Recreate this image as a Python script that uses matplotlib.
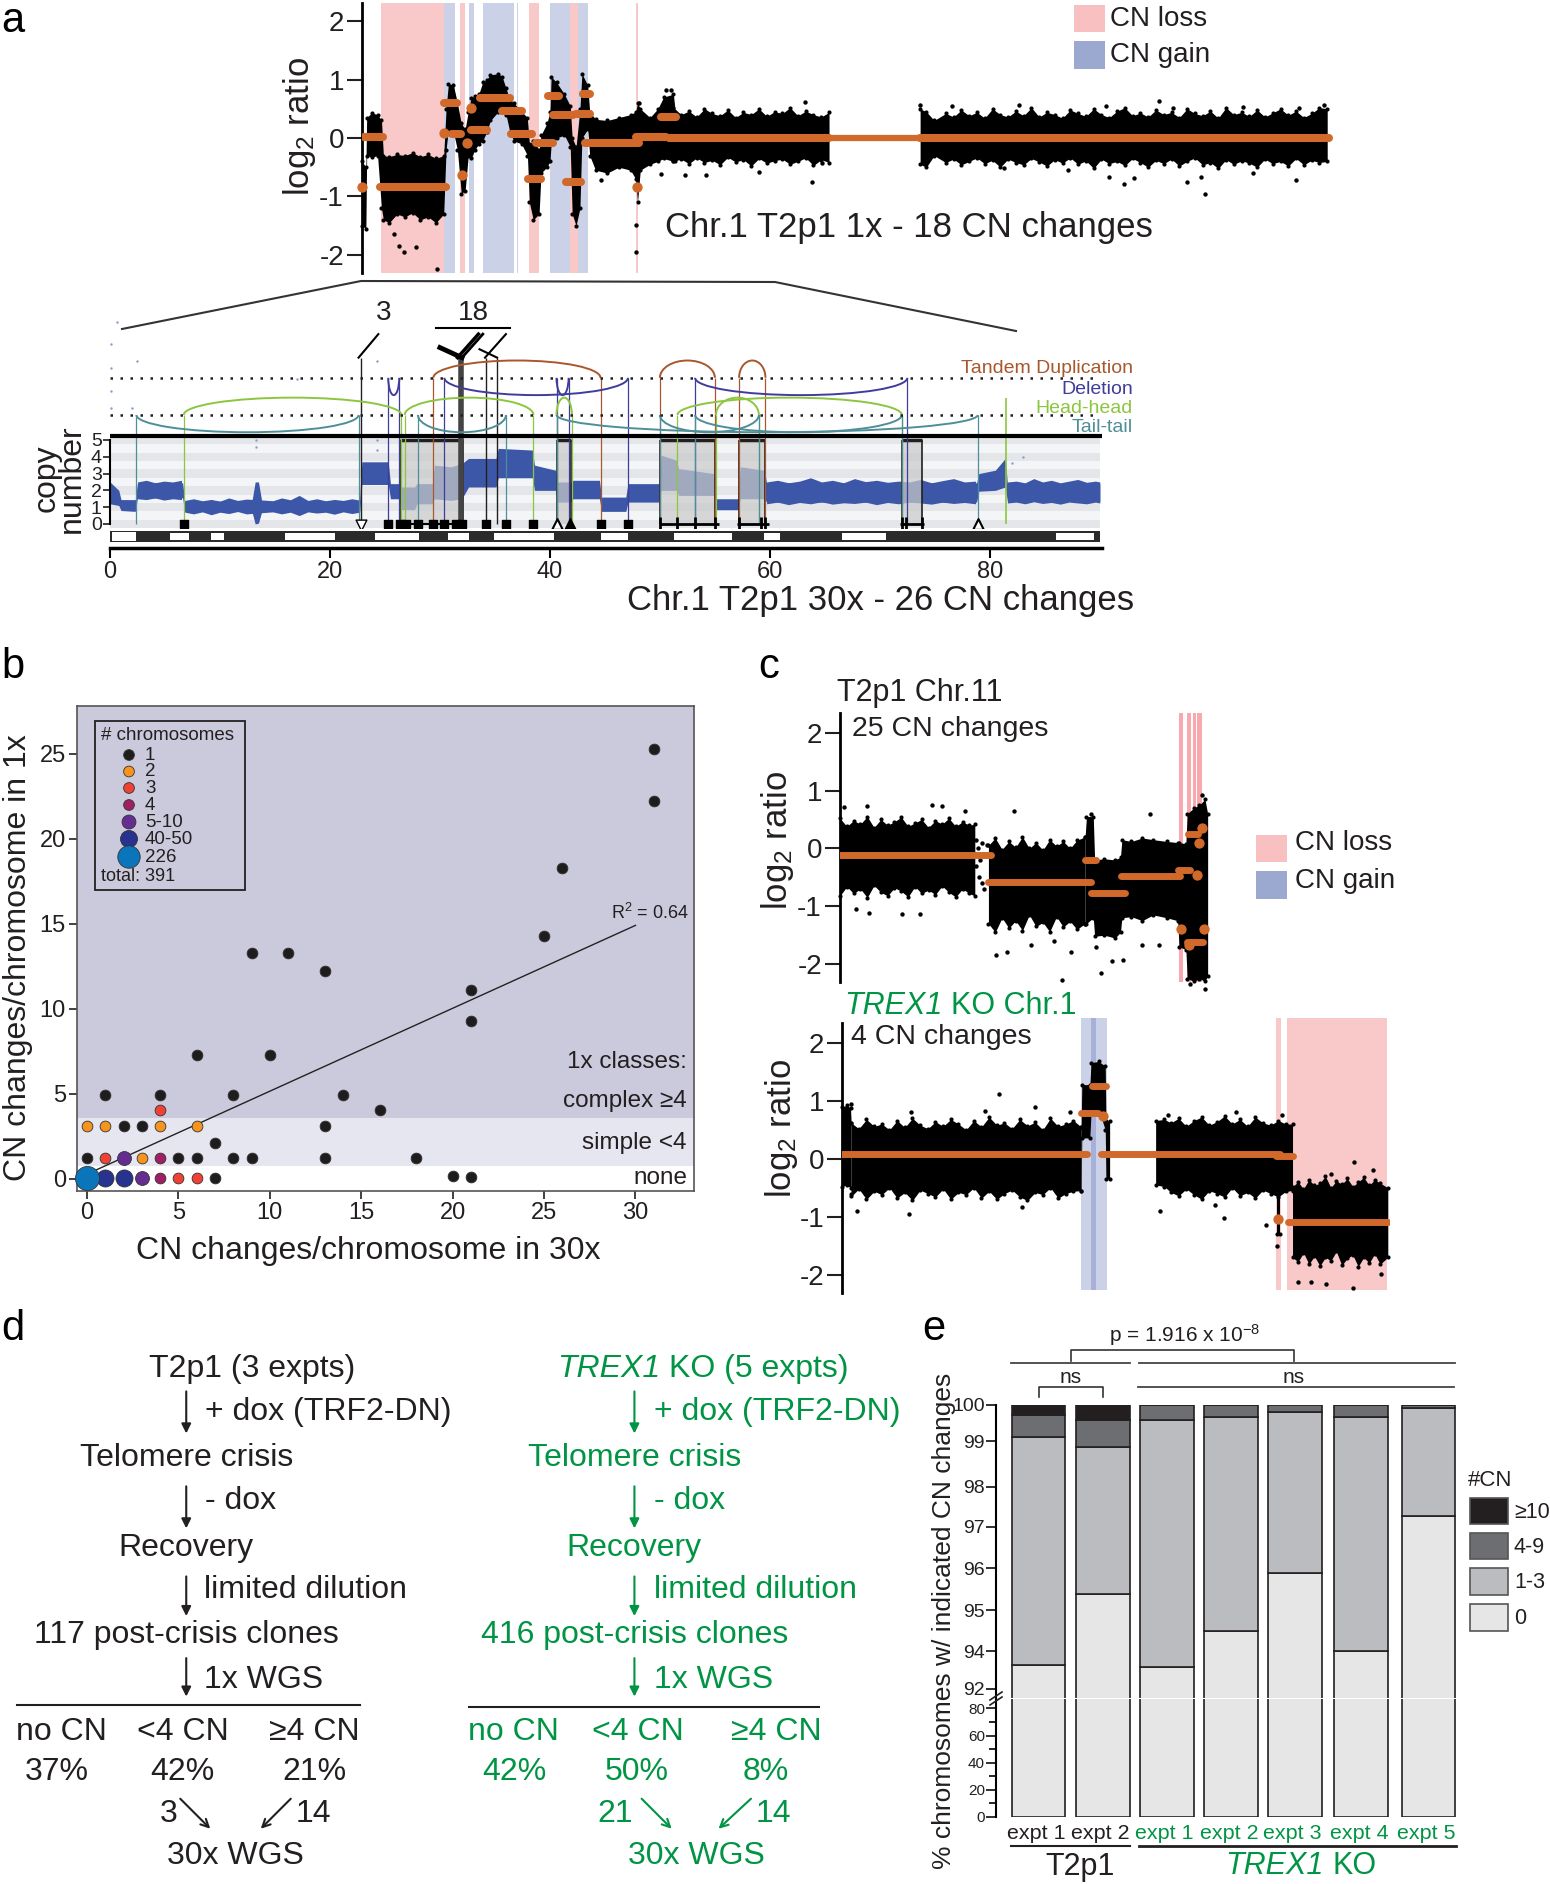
import numpy as np
import matplotlib
matplotlib.use('Agg')
import matplotlib.pyplot as plt
from matplotlib.patches import Arc, Rectangle

plt.rcParams['font.family'] = ['Liberation Sans', 'DejaVu Sans']
plt.rcParams['mathtext.fontset'] = 'custom'
plt.rcParams['mathtext.rm'] = 'Liberation Sans'
plt.rcParams['mathtext.it'] = 'Liberation Sans:italic'
plt.rcParams['mathtext.default'] = 'regular'

W, H = 1550, 1884
S = 1550 / 1290
DARK = '#231F20'
GREEN = '#009444'
ORANGE = '#D0692A'
LOSS = '#F9C8C9'
GAIN = '#CBD2E8'

# panel a, 1x track (Mb, log2 ratio)
a_pos = [0, 1, 1.2, 2.5, 4, 5, 5.5, 7, 9, 11, 13, 15, 17, 19, 21, 21.6, 22.2, 23.5, 24.5, 25.5, 26.5, 27.3, 28, 29, 30,
         31, 32, 33, 35, 36, 37, 38, 39, 41, 42.5, 43, 44, 45.5, 46, 47.5, 48.3, 48.6, 50, 52, 53.5, 54, 55, 56, 56.5,
         58, 58.5, 60, 63, 66, 69, 70.3, 70.8, 71.5, 74, 76, 77.5, 80, 80.5]
a_lo = [-1.5, -1.55, -0.3, -0.33, -0.3, -1.2, -1.4, -1.45, -1.3, -1.35, -1.28, -1.4, -1.35, -1.45, -1.3, -0.2, 0.15, 0.1, -0.2,
        -0.95, -0.9, -0.3, -0.35, -0.2, -0.1, -0.05, 0.1, 0.3, 0.45, 0.45, 0.4, 0.1, -0.05, -0.1, -0.3, -1.1, -1.4, -1.3, -0.6,
        -0.5, -0.4, -0.1, 0, 0.05, -0.15, -1.3, -1.5, -1.2, 0, 0.15, -0.3, -0.55, -0.6, -0.5, -0.55, -0.7, -1.1, -0.55, -0.45,
        -0.4, -0.35, -0.4, -0.4]
a_hi = [-0.4, -0.5, 0.35, 0.43, 0.4, 0.3, -0.3, -0.32, -0.28, -0.3, -0.25, -0.32, -0.28, -0.35, -0.3, 0.5, 0.93, 0.9, 0.6,
        0.25, 0.15, 0.45, 0.68, 0.72, 0.75, 0.95, 1.0, 1.08, 1.1, 1.05, 0.85, 0.65, 0.6, 0.45, 0.35, -0.1, -0.05, -0.2, 0.05,
        0.25, 0.45, 1.05, 0.95, 0.75, 0.55, 0, -0.15, 0.5, 1.1, 0.9, 0.45, 0.32, 0.3, 0.35, 0.4, 0.45, 0.6, 0.5, 0.35, 0.5,
        0.7, 0.75, 0.45]
a_p_pos = [80, 82, 84, 86, 88, 90, 92, 94, 96, 98, 100, 102, 104, 106, 108, 110, 112, 114, 116, 118, 120]
a_p_lo = [-.40, -.36, -.44, -.34, -.42, -.38, -.46, -.33, -.41, -.37, -.48, -.35, -.43, -.39, -.36, -.45, -.40, -.34, -.47, -.37, -.42]
a_p_hi = [.52, .40, .46, .36, .50, .42, .38, .48, .35, .44, .40, .50, .37, .45, .42, .52, .38, .46, .40, .36, .44]
a_q_pos = [143.4, 145, 147,
           150, 152, 154, 156, 158, 160, 162, 164, 166, 168,
           170, 172, 174, 176, 178, 180, 182, 184, 186, 188,
           190, 192, 194, 196, 198, 200, 202, 204, 206, 208,
           210, 212, 214, 216, 218, 220, 222, 224, 226, 228,
           230, 232, 234, 236, 238, 240, 242, 244, 246, 248]
a_q_lo = [-.45, -.5, -.3,
          -.42, -.36, -.46, -.4, -.34, -.44, -.38, -.5, -.36, -.42,
          -.46, -.35, -.41, -.48, -.37, -.43, -.34, -.45, -.39, -.52,
          -.36, -.44, -.4, -.47, -.35, -.42, -.5, -.38, -.44, -.36,
          -.48, -.4, -.34, -.46, -.42, -.52, -.37, -.45, -.39, -.43,
          -.5, -.36, -.44, -.4, -.48, -.35, -.46, -.38, -.42, -.4]
a_q_hi = [.5, .45, .3,
          .42, .36, .48, .38, .44, .34, .5, .4, .36, .46,
          .38, .52, .36, .44, .4, .34, .48, .42, .37, .5,
          .4, .35, .46, .52, .38, .43, .36, .48, .4, .44,
          .35, .5, .42, .38, .46, .34, .52, .4, .44, .37,
          .48, .36, .43, .5, .39, .46, .35, .42, .52, .5]
a_out_x = [113.7, 78.1, 79.4, 204.8, 143.4, 216.5, 212, 195.7, 198.4, 115.5, 88.4, 83, 71.3, 9.4, 10.8, 13.9, 8.1, 19.3, 70.4, 70.4,
           168.7, 191.2, 208.4, 226.4, 240.8, 247.2, 240, 229, 215.6, 192, 181.3, 165, 118.2, 102, 76.7, 61.3, 151.5]
a_out_y = [0.61, 0.82, 0.82, 0.63, 0.57, -0.95, -0.75, -0.79, -0.68, -0.75, -0.64, -0.64, 0.6, -1.84, -1.95, -1.87, -1.64, -2.25, -1.95, -1.49,
           0.57, 0.55, 0.52, 0.53, 0.52, 0.57, -0.72, -0.6, -0.66, -0.66, -0.55, -0.52, -0.43, -0.58, -0.62, -0.72, 0.55]
a_seg_start = [0.4, 4.5, 21, 23, 28, 30.3, 36, 38.2, 42.6, 44.7, 47.8, 49.2, 52.5, 55, 56.8, 57.4, 70.4, 76.7, 79, 143.4]
a_seg_end = [5.4, 21.6, 24.4, 25.5, 32, 37.9, 41, 43.7, 46, 49, 50.7, 54.1, 56.3, 58.5, 58.6, 71.3, 78, 80.6, 120, 248.4]
a_seg_val = [0.02, -0.84, 0.6, 0.07, 0.14, 0.69, 0.46, 0.07, -0.7, -0.09, 0.72, 0.39, -0.75, 0.41, 0.75, -0.08, 0.02, 0.36, 0, 0]
a_dot_x = [0, 21, 25.8, 27, 28.1, 70.7]
a_dot_y = [-0.83, 0.08, -0.63, -0.08, 0.52, -0.83]
a_gap_start, a_gap_end, a_gap_val = 120, 143.4, 0
a_loss = [(4.9, 21.1), (25.3, 26.5), (42.9, 45.5), (53.4, 55.6), (70.5, 70.9)]
a_gain = [(21.1, 23.8), (27.6, 28.9), (31, 39), (39.7, 40.2), (48.3, 53.4), (55.6, 58.1)]

# panel a, 30x track (Mb, copy number)
cn_pos = [0, 0.8, 1, 2.3, 2.5, 6.6, 6.8, 12.9, 13.2, 13.5, 13.8, 22.7, 22.9, 25.3, 25.5, 26.3, 26.5, 27.7, 27.9, 29.3, 29.5, 31, 32, 32.6,
          35.1, 35.3, 38.4, 38.6, 40.5, 40.7, 41.9, 42.1, 44.5, 44.7, 46.9, 47.1, 49.9, 50.1, 51.5, 51.7, 54.9, 55.1, 57.1, 57.3, 59.5, 59.7,
          78.8, 79, 80.5, 81.4, 81.6, 90]
cn_lo = [1.2, 1.1, 0.8, 0.75, 1.55, 1.55, 0.75, 0.75, 0, 0.05, 0.75, 0.75, 2.35, 2.35, 1.5, 1.5, 0.85, 0.85, 1.2, 1.2, 1.5, 1.4, 1.5, 2.2,
         2.2, 2.75, 2.75, 2, 2, 1.3, 1.3, 1.5, 1.5, 0.75, 0.75, 1.3, 1.3, 2, 2, 1.7, 1.7, 0.85, 0.85, 1.5, 1.5, 1.3, 1.3, 1.95, 2, 2.2, 1.35, 1.35]
cn_hi = [2.5, 2, 1.45, 1.45, 2.45, 2.45, 1.35, 1.35, 2.5, 2.5, 1.35, 1.35, 3.7, 3.7, 2.4, 2.4, 2.2, 2.2, 2.4, 2.4, 3.5, 3.4, 3.6, 3.9,
         3.9, 4.5, 4.4, 3.5, 3.2, 2.5, 2.5, 2.6, 2.6, 1.6, 1.6, 2.4, 2.4, 4.1, 3.8, 3.3, 3, 1.5, 1.5, 3.4, 3.2, 2.45, 2.45, 3, 3.2, 3.9, 2.4, 2.4]
cn_p1 = [2.5, 3.3, 4.1, 4.9, 5.7, 6.5]
cn_p1_lo = [1.5, 1.45, 1.55, 1.42, 1.5, 1.45]
cn_p1_hi = [2.5, 2.6, 2.45, 2.55, 2.5, 2.6]
cn_p2 = [6.8, 7.6, 8.4, 9.2, 10, 10.8, 11.6, 12.4, 14, 14.8, 15.6, 16.4, 17.2, 18, 18.8, 19.6, 20.4, 21.2, 22, 22.7]
cn_p2_lo = [.7, .6, .72, .55, .7, .62, .74, .6, .68, .72, .6, .7, .5, .72, .65, .7, .58, .72, .62, .7]
cn_p2_hi = [1.4, 1.5, 1.38, 1.46, 1.36, 1.55, 1.4, 1.48, 1.42, 1.38, 1.55, 1.44, 1.7, 1.4, 1.5, 1.38, 1.46, 1.4, 1.5, 1.42]
cn_p3 = [59.7, 60.7, 61.7, 62.7, 63.7, 64.7, 65.7, 66.7, 67.7, 68.7, 69.7, 70.7, 71.7, 72.7, 73.7, 74.7, 75.7, 76.7, 77.7, 78.7]
cn_p3_lo = [1.2, 1.3, 1.15, 1.28, 1.2, 1.32, 1.18, 1.26, 1.22, 1.3, 1.15, 1.28, 1.2, 1.3, 1.25, 1.18, 1.3, 1.22, 1.28, 1.2]
cn_p3_hi = [2.5, 2.6, 2.45, 2.55, 2.75, 2.5, 2.6, 2.45, 2.7, 2.52, 2.6, 2.48, 2.55, 2.5, 2.65, 2.45, 2.58, 2.7, 2.5, 2.55]
cn_p4 = [81.6, 82.4, 83.2, 84, 84.8, 85.6, 86.4, 87.2, 88, 88.8, 89.6, 90]
cn_p4_lo = [1.25, 1.3, 1.2, 1.32, 1.22, 1.28, 1.18, 1.3, 1.25, 1.2, 1.3, 1.25]
cn_p4_hi = [2.5, 2.55, 2.45, 2.7, 2.5, 2.6, 2.45, 2.55, 2.65, 2.48, 2.55, 2.5]
cn_speck_x = [0.6, 0.1, 0.1, 2.5, 0.1, 2, 24.3, 17, 0.1, 13.3, 13.3, 24.3, 24.3, 83, 82]
cn_speck_y = [12, 10.7, 9.3, 9.7, 7.9, 6.9, 9.7, 8.6, 6.9, 5, 4.6, 4.4, 5, 4, 3.6]
tandem_start = [29.4, 50, 57.2]
tandem_end = [44.6, 55, 59.6]
deletion_start = [25.3, 30.4, 40.6, 53.2]
deletion_end = [26.3, 47.1, 41.7, 72.5]
head_start = [6.7, 26.8, 40.6, 51.6, 55.1]
head_end = [26.5, 38.5, 42, 72, 59]
tail_start = [2.4, 28, 40.6, 50, 53.2]
tail_end = [22.6, 36, 78.9, 59, 72]
box_start = [26.4, 40.6, 50, 57.2, 72]
box_end = [32.1, 41.9, 55, 59.6, 73.8]
square_pos = [6.7, 25.3, 26.4, 26.9, 28, 29.4, 30.4, 31.5, 32, 34.2, 36, 38.5, 44.6, 47.1]
cross_start = [50, 57, 71.8]
cross_end = [55.4, 59.9, 74]
cross_pos = [50, 51.6, 53.2, 55, 57.2, 59.2, 59.6, 72, 72.4, 73.8]
ideo_white_start = [5.5, 9.2, 15.9, 24.1, 30.7, 34.9, 44.6, 51.3, 59.5, 66.6, 86]
ideo_white_end = [7.2, 10.4, 20.5, 28.1, 32.6, 40.4, 47.1, 56.6, 60.9, 70.6, 89.5]

# panel b
b_x = [31, 31, 26, 25, 9, 11, 13, 21, 21, 6, 10, 1, 4, 8, 14, 16, 2, 3, 13, 7, 0, 5, 6, 8, 9, 13, 18, 7, 20, 21]
b_y = [25.3, 22.2, 18.3, 14.3, 13.3, 13.3, 12.2, 11.1, 9.3, 7.3, 7.3, 4.9, 4.9, 4.9, 4.9, 4.06, 3.1, 3.1, 3.1, 2.1,
       1.2, 1.2, 1.2, 1.2, 1.2, 1.2, 1.2, 0.07, 0.15, 0.13]
orange_x, orange_y = [0, 1, 4, 6, 3], [3.1, 3.1, 3.1, 3.1, 1.2]
red_x, red_y = [4, 1, 5, 6], [4.06, 1.2, 0.07, 0.07]
maroon_x, maroon_y = [4, 4], [1.2, 0.07]
purple_x, purple_y = [2, 3], [1.2, 0.07]
navy_x, navy_y = [1, 2], [0.07, 0.07]
blue_x, blue_y = [0], [0.07]
fit_x, fit_y = [0.2, 30], [0.37, 14.9]
leg_labels = ['1', '2', '3', '4', '5-10', '40-50', '226']

# panel c
c1_p_pos = [0, 2.5, 5, 7.5, 10, 12.5, 15, 17.5, 20, 22.5, 25, 27.5, 30, 32.5, 35, 37.5, 40, 42.5, 45, 47.5, 49.5]
c1_p_lo = [-.82, -.66, -.78, -.7, -.85, -.64, -.76, -.82, -.68, -.74, -.84, -.66, -.78, -.72, -.8, -.65, -.76, -.84, -.7, -.78, -.82]
c1_p_hi = [.52, .38, .48, .42, .55, .36, .5, .4, .46, .54, .38, .44, .5, .36, .48, .42, .52, .38, .46, .4, .42]
c1_q_pos = [54.5, 57, 59.5, 62, 64.5, 67, 69.5, 72, 74.5, 77, 79.5, 82, 84.5, 87, 90]
c1_q_lo = [-1.3, -1.45, -1.2, -1.38, -1.25, -1.42, -1.15, -1.35, -1.28, -1.44, -1.18, -1.36, -1.26, -1.4, -1.3]
c1_q_hi = [.05, .18, -.02, .12, .02, .2, .0, .1, -.03, .15, .04, .12, .0, .14, .2]
c1_pos = [90, 90.5, 93, 93.5, 97, 101, 103, 103.5, 107, 111, 115, 120, 124, 124.5, 127, 127.5, 130, 132, 134, 135]
c1_lo = [-1.3, -1.3, -1.2, -1.52, -1.5, -1.55, -1.45, -1.2, -1.18, -1.25, -1.15, -1.2, -1.25, -1.7, -1.75, -2.25, -2.3, -2.25, -2.3, -2.2]
c1_hi = [.2, .55, .55, -.2, -.18, -.2, -.15, .15, .12, .18, .15, .12, .1, .1, .08, .6, .7, .75, .85, .6]
c1_out_x = [33.6, 63.8, 92, 113.7, 22.9, 29.5, 57.3, 61.4, 70, 78.6, 85, 81.5, 96, 100, 104, 94, 111, 117, 5.7, 10.6, 1.6, 9.8, 37.6, 45.8, 133, 134, 128.5,
            50, 50.5, 51, 51.5, 52, 52, 53, 53, 49.8, 54]
c1_out_y = [0.75, 0.65, 0.59, 0.59, -1.14, -1.14, -1.85, -1.8, -1.67, -1.6, -1.8, -2.28, -2.15, -1.94, -1.93, -1.7, -1.67, -1.67, -1.04, -1.11, 0.72, 0.73, 0.73, 0.65, 0.93, -2.43, -2.34,
            -0.3, 0, -0.5, -0.2, -0.6, 0.1, -0.7, -0.1, 0.15, 0.05]
c1_seg_start = [0, 54.5, 90, 92, 103, 124, 127.7, 127.3]
c1_seg_end = [55.6, 92, 94, 104.7, 125, 128.5, 131.6, 133.4]
c1_seg_val = [-0.11, -0.575, -0.2, -0.765, -0.48, -0.38, 0.25, -1.61]
c1_dot_x = [125.2, 128, 131.7, 131.2, 133, 133.8]
c1_dot_y = [-1.39, -1.67, 0.085, -0.46, 0.35, -1.39]
c1_loss = [(124.4, 126), (127.6, 129), (129.6, 130.6), (131.2, 133)]

c2_pos = [0, 2, 3.7, 4]
c2_lo = [-.48, -.45, -.5, -.6]
c2_hi = [.9, .92, .88, .62]
c2_p_pos = [4, 7.5, 11, 14.5, 18, 21.5, 25, 28.5, 32, 35.5, 39, 42.5, 46, 49.5, 53, 56.5, 60, 63.5, 67, 70.5, 74, 77.5, 81, 84.5, 88, 91.5, 95, 98.5, 102, 105.5, 109]
c2_p_lo = [-.65, -.52, -.7, -.56, -.62, -.5, -.68, -.58, -.72, -.54, -.6, -.66, -.52, -.7, -.58, -.62, -.5, -.68, -.56, -.7, -.6, -.54, -.66, -.72, -.58, -.62, -.5, -.68, -.6, -.56, -.55]
c2_p_hi = [.62, .52, .68, .56, .6, .5, .66, .54, .7, .58, .52, .64, .56, .68, .6, .5, .66, .55, .72, .58, .62, .52, .68, .57, .63, .5, .7, .56, .6, .66, .55]
c2_g_pos = [109, 109.3, 113, 113.5, 117, 120, 120.3, 122]
c2_g_lo = [-.55, .36, .36, .8, .85, .5, -.35, -.35]
c2_g_hi = [.55, 1.28, 1.28, 1.66, 1.68, 1.6, .65, .65]
c2_q_pos = [143, 147, 150, 153.5, 157, 160.5, 164, 167.5, 171, 174.5, 178, 181.5, 185, 188.5, 192, 195.5, 199, 202.5, 205.5]
c2_q_lo = [-.45, -.48, -.58, -.64, -.52, -.62, -.7, -.55, -.6, -.66, -.5, -.64, -.58, -.68, -.54, -.6, -.66, -.56, -.55]
c2_q_hi = [.66, .68, .62, .7, .56, .66, .72, .58, .64, .74, .6, .68, .56, .72, .62, .58, .66, .6, .6]
c2_r_pos = [205.5, 208, 210.5, 213, 215.5, 218, 220.5, 223, 225.5, 228, 230.5, 233, 235.5, 238, 240.5, 243, 245.5, 249]
c2_r_lo = [-1.7, -1.78, -1.62, -1.82, -1.68, -1.85, -1.7, -1.76, -1.6, -1.84, -1.72, -1.66, -1.86, -1.7, -1.8, -1.64, -1.82, -1.7]
c2_r_hi = [-.48, -.4, -.52, -.36, -.46, -.42, -.3, -.5, -.38, -.44, -.34, -.48, -.4, -.32, -.46, -.36, -.42, -.5]
c2_col_pos = [198.6, 199.6]
c2_col_lo = [-1.3, -1.3]
c2_col_hi = [-.55, -.55]
c2_out_x = [71.4, 3.7, 6.7, 30.2, 87.8, 31.2, 64.9, 103.7, 144.9, 148.6, 179.8, 174, 193.5, 198.6, 200.6, 233.7, 242.4, 223, 207.8, 214, 221, 233, 246, 82.2, 170]
c2_out_y = [1.12, 0.94, -0.9, -0.95, 0.89, 0.8, 0.82, 0.8, -0.9, 0.75, 0.8, -1.02, -1.14, -1.5, 0.76, -0.06, -0.2, -0.27, -2.13, -2.13, -2.16, -2.23, -1.99, -0.83, -0.79]
c2_seg_start = [0, 108.8, 113.9, 118, 198, 203.3]
c2_seg_end = [111.8, 116.5, 120.4, 199.6, 205.7, 249]
c2_seg_val = [0.08, 0.79, 1.26, 0.08, 0.056, -1.09]
c2_dot_x = [119, 199]
c2_dot_y = [0.74, -1.04]
c2_loss = [(197.8, 200.4), (203, 248.8)]
c2_gain = [(108.8, 120.6)]
c2_gain_dark = [(113.3, 115.9)]

# panel e
e_groups = ['expt 1', 'expt 2', 'expt 1', 'expt 2', 'expt 3', 'expt 4', 'expt 5']
e_left_px = [1011.6, 1075.8, 1139.7, 1204, 1267.8, 1334, 1401.5]
e_zero = [93.75, 95.45, 93.7, 94.57, 95.95, 94.09, 97.32]
e_one_three = [5.46, 3.52, 5.93, 5.13, 3.86, 5.6, 2.6]
e_four_nine = [0.53, 0.66, 0.37, 0.3, 0.19, 0.31, 0.06]
e_ten_plus = [0.26, 0.37, 0, 0, 0, 0, 0.02]
e_colors = ['#E6E6E6', '#BBBCBF', '#6D6E71', '#231F20']
e_upper_ticks = [100, 99.12, 98.03, 97.07, 96.07, 95.07, 94.08, 93.18]
e_upper_labels = ['100', '99', '98', '97', '96', '95', '94', '92']
e_lower_ticks = [0, 20, 40, 60, 80]
e_legend = ['≥10', '4-9', '1-3', '0']


def axes_px(x0, y0, x1, y1):
    return fig.add_axes([x0 / W, 1 - y1 / H, (x1 - x0) / W, (y1 - y0) / H])


def tx(x, y, s, size=22, color=DARK, ha='center', **kw):
    return ov.text(x, y + 2.5, s, fontsize=size, color=color, ha=ha, va='center', **kw)


def trex(x, y, rest, size, ha='center'):
    # italic gene name followed by upright text
    rend = fig.canvas.get_renderer()
    t1 = tx(x, y, 'TREX1', size, GREEN, 'left', style='italic')
    t2 = tx(x, y, rest, size, GREEN, 'left')
    w1 = t1.get_window_extent(rend).width
    w2 = t2.get_window_extent(rend).width
    gap = size * 100 / 72 * 0.278
    left = x - (w1 + gap + w2) / 2 if ha == 'center' else x
    t1.set_x(left)
    t2.set_x(left + w1 + gap)


def cloud(ax, pos, lo, hi):
    ax.fill_between(pos, lo, hi, color='black', lw=0, zorder=2)
    ax.scatter(pos, lo, s=9, color='black', lw=0, zorder=2, clip_on=False)
    ax.scatter(pos, hi, s=9, color='black', lw=0, zorder=2, clip_on=False)


def log_track(ax, ox, oy, starts, ends, vals, dx, dy, lw=5.5):
    ax.scatter(ox, oy, s=10, color='black', lw=0, zorder=2, clip_on=False)
    ax.hlines(vals, starts, ends, color=ORANGE, lw=lw, zorder=3, capstyle='round')
    ax.scatter(dx, dy, s=55, color=ORANGE, lw=0, zorder=3, clip_on=False)
    for sp in ['top', 'right', 'bottom']:
        ax.spines[sp].set_visible(False)
    ax.spines['left'].set_linewidth(2)
    ax.set_xticks([])
    ax.set_yticks([-2, -1, 0, 1, 2], ['-2', '-1', '0', '1', '2'])
    ax.tick_params(axis='y', labelsize=20, length=11, width=1.5, pad=2, colors=DARK)
    ax.patch.set_visible(False)


fig = plt.figure(figsize=(W / 100, H / 100), dpi=100)
ov = fig.add_axes([0, 0, 1, 1], zorder=10)
ov.set_xlim(0, W)
ov.set_ylim(H, 0)
ov.axis('off')

# ---- a top
ax = axes_px(362, 3, 1335, 273)
ax.set_xlim(0, 250)
ax.set_ylim(-2.31, 2.31)
for s, e in a_loss:
    ax.axvspan(s, e, color=LOSS, lw=0, zorder=1)
for s, e in a_gain:
    ax.axvspan(s, e, color=GAIN, lw=0, zorder=1)
cloud(ax, a_pos, a_lo, a_hi)
cloud(ax, a_p_pos, a_p_lo, a_p_hi)
cloud(ax, a_q_pos, a_q_lo, a_q_hi)
log_track(ax, a_out_x, a_out_y, a_seg_start, a_seg_end, a_seg_val, a_dot_x, a_dot_y, lw=5.8)
ax.hlines(a_gap_val, a_gap_start, a_gap_end, color=ORANGE, lw=4.5, zorder=3)
tx(300, 124, 'log$_2$ ratio', 25, rotation=90)
tx(665, 225, 'Chr.1 T2p1 1x - 18 CN changes', 25, ha='left')
ov.add_patch(Rectangle((1074, 5), 31, 27, color='#F9C0C2', lw=0))
ov.add_patch(Rectangle((1074, 41), 31, 28, color='#9BA8D0', lw=0))
tx(1110, 16, 'CN loss', 20, ha='left')
tx(1110, 52, 'CN gain', 20, ha='left')
ov.plot([122, 361, 775, 1016], [329, 281, 282, 331], color='#333333', lw=1.5)

# ---- a zoom
ax = axes_px(110, 318, 1102, 528)
ax.set_xlim(0, 90.2)
ax.set_ylim(-0.24, 12.26)
for i in range(0, 6):
    ax.barh(i, 90, height=0.5, left=0, color='#E4E6EA', lw=0, zorder=0)
    ax.barh(i + 0.5, 90, height=0.5, left=0, color='#F4F5F7', lw=0, zorder=0)
ax.add_patch(Rectangle((0, 5.1), 90.2, 8, color='white', lw=0, zorder=0.5))
ax.fill_between(cn_pos, cn_lo, cn_hi, color='#3C56A8', lw=0, zorder=2)
for pp, ll, hh in [(cn_p1, cn_p1_lo, cn_p1_hi), (cn_p2, cn_p2_lo, cn_p2_hi), (cn_p3, cn_p3_lo, cn_p3_hi), (cn_p4, cn_p4_lo, cn_p4_hi)]:
    ax.fill_between(pp, ll, hh, color='#3C56A8', lw=0, zorder=2)
ax.scatter(cn_speck_x, cn_speck_y, s=3, color='#8A9BD0', lw=0, zorder=2)
for s, e in zip(box_start, box_end):
    ax.add_patch(Rectangle((s, 0), e - s, 5, facecolor='#C9CAC9', alpha=0.72, edgecolor='none', zorder=3))
    ax.vlines([s, e], 0, 5, color=DARK, lw=1.2, zorder=4)
    ax.hlines(5, s, e, color=DARK, lw=2.5, zorder=4)
UP, LOW = 8.7, 6.49
arc_sets = [
    (tandem_start, tandem_end, UP, 1, '#A9572C'),
    (deletion_start, deletion_end, UP, -1, '#3F3D9C'),
    (head_start, head_end, LOW, 1, '#8CC63F'),
    (tail_start, tail_end, LOW, -1, '#4E8E98'),
]
for starts, ends, base, way, col in arc_sets:
    for s, e in zip(starts, ends):
        t1, t2 = (0, 180) if way > 0 else (180, 360)
        ax.add_patch(Arc(((s + e) / 2, base), e - s, 2.06, theta1=t1, theta2=t2, color=col, lw=1.4, zorder=5))
        ax.vlines([s, e], 0, base, color=col, lw=0.9, zorder=4)
ax.vlines(81.5, 0, 7.5, color='#8CC63F', lw=1.2, zorder=4)
ax.vlines([22.8, 34.2, 35.2], 0, 9.9, color=DARK, lw=1, zorder=4)
ax.vlines([31.9], 0, 9.9, color='#444444', lw=4, zorder=4)
ax.hlines([UP, LOW], 0, 90, color=DARK, lw=1.8, linestyles=(0, (1, 3)), zorder=6)
ax.plot([0, 90.2], [5.24, 5.24], color='black', lw=3, zorder=6)
ax.scatter(square_pos, [0] * len(square_pos), marker='s', s=36, color='black', zorder=6)
ax.hlines(0, 26.4, 32, color='black', lw=1.5, zorder=6)
ax.hlines([0] * 3, cross_start, cross_end, color='black', lw=2, zorder=6)
ax.scatter(cross_pos, [0] * len(cross_pos), marker='|', s=90, color='black', lw=2, zorder=6)
ax.scatter([22.8], [-0.05], marker='v', s=60, facecolor='white', edgecolor='black', zorder=6)
ax.scatter([40.6, 78.9], [0, 0], marker='^', s=60, facecolor='white', edgecolor='black', lw=1.5, zorder=6)
ax.scatter([41.8], [0], marker='^', s=70, color='black', zorder=6)
ax.plot([22.6, 24.4], [9.9, 11.3], color='black', lw=1.5, zorder=6)
ax.plot([31.6, 33.5], [9.9, 11.3], color='black', lw=2.5, zorder=6)
ax.plot([32, 33.9], [9.9, 11.3], color='black', lw=2, zorder=6)
ax.plot([34.1, 36], [9.9, 11.3], color='black', lw=1.5, zorder=6)
ax.plot([30, 32], [10.5, 9.9], color='black', lw=3.5, zorder=6)
ax.plot([33.6, 35.2], [10.4, 9.9], color='black', lw=1.5, zorder=6)
for sp in ['top', 'right', 'bottom']:
    ax.spines[sp].set_visible(False)
ax.spines['left'].set_bounds(0, 5)
ax.spines['left'].set_linewidth(1.5)
ax.set_xticks([])
ax.set_yticks(range(6))
ax.tick_params(axis='y', labelsize=14, length=5, width=1.2, pad=1, colors=DARK)
ax.patch.set_visible(False)
tx(59, 476, 'copy\nnumber', 23, rotation=90, linespacing=0.8)

# ideogram
ax = axes_px(110, 531, 1102, 542)
ax.set_xlim(0, 90.2)
ax.set_ylim(0, 1)
ax.barh(0.5, 90, height=1, left=0, color='#2B2B2B', lw=0)
ax.barh([0.5] * len(ideo_white_start), np.array(ideo_white_end) - np.array(ideo_white_start), height=0.7,
        left=ideo_white_start, color='white', lw=0)
ax.barh(0.5, 2.2, height=0.8, left=0.2, color='white', lw=0)
ax.axis('off')

ax = axes_px(110, 548, 1102, 556)
ax.set_xlim(0, 90.2)
ax.set_ylim(0, 1)
for sp in ['left', 'right', 'bottom']:
    ax.spines[sp].set_visible(False)
ax.spines['top'].set_linewidth(2.5)
ax.xaxis.tick_top()
ax.set_xticks([0, 20, 40, 60, 80])
ax.set_yticks([])
ax.tick_params(axis='x', direction='in', length=7, width=1.5, labeltop=False)
for v in [0, 20, 40, 60, 80]:
    tx(110 + v * 11, 570, str(v), 17)
ax.patch.set_visible(False)
tx(1134, 598, 'Chr.1 T2p1 30x - 26 CN changes', 25, ha='right')
tx(384, 310, '3', 20)
tx(473, 310, '18', 20)
ov.plot([436, 510], [328, 328], color='black', lw=1.5)
tx(1133, 366, 'Tandem Duplication', 14, color='#A9572C', ha='right')
tx(1133, 387, 'Deletion', 14, color='#3F3D9C', ha='right')
tx(1133, 406, 'Head-head', 14, color='#8CC63F', ha='right')
tx(1133, 425, 'Tail-tail', 14, color='#4E8E98', ha='right')

# ---- b
ax = axes_px(77, 706, 694, 1191)
ax.set_xlim(-0.545, 33.2)
ax.set_ylim(-0.72, 27.8)
ax.set_facecolor('white')
ax.axhspan(3.58, 28, color='#CBCADC', lw=0, zorder=0)
ax.axhspan(0.76, 3.58, color='#E6E6F0', lw=0, zorder=0)
ax.plot(fit_x, fit_y, color='#222222', lw=1, zorder=2)
for xs, ys, c, sz in [(b_x, b_y, '#1F1C1D', 60), (orange_x, orange_y, '#F7941D', 60), (red_x, red_y, '#EF4136', 60),
                      (maroon_x, maroon_y, '#9E1F63', 60), (purple_x, purple_y, '#662D91', 100),
                      (navy_x, navy_y, '#27338F', 150), (blue_x, blue_y, '#0B75BB', 300)]:
    ax.scatter(xs, ys, s=sz, color=c, edgecolor='#333333', lw=0.6, zorder=3, clip_on=False)
ax.set_xticks(range(0, 31, 5))
ax.set_yticks(range(0, 26, 5))
ax.tick_params(labelsize=17, length=6, width=1.2, pad=2, colors=DARK)
for sp in ax.spines.values():
    sp.set_linewidth(1.2)
    sp.set_color('#555555')
tx(368, 1248, 'CN changes/chromosome in 30x', 23)
tx(18, 955, 'CN changes/chromosome in 1x', 23, rotation=90)
tx(689, 910, 'R$^2$ = 0.64', 13, ha='right')
tx(687, 1059, '1x classes:', 17.5, ha='right')
tx(687, 1099, 'complex ≥4', 17.5, ha='right')
tx(687, 1141, 'simple <4', 17.5, ha='right')
tx(687, 1175, 'none', 17.5, ha='right')
ov.add_patch(Rectangle((95, 721), 150, 169, facecolor='none', edgecolor=DARK, lw=1.3))
tx(101, 733, '# chromosomes', 13.5, ha='left')
leg_y = [753, 769.5, 786, 803, 820, 837, 855]
leg_c = ['#1F1C1D', '#F7941D', '#EF4136', '#9E1F63', '#662D91', '#27338F', '#0B75BB']
leg_s = [60, 60, 60, 60, 100, 150, 260]
ov.scatter([129] * 7, [v + 2 for v in leg_y], s=leg_s, c=leg_c, edgecolor='#333333', lw=0.6)
for yy, lab in zip(leg_y, leg_labels):
    tx(145, yy, lab, 13.5, ha='left')
tx(101, 874, 'total: 391', 13, ha='left')

# ---- c
ax = axes_px(840, 713, 1215, 982)
ax.set_xlim(0, 137.7)
ax.set_ylim(-2.31, 2.34)
for s, e in c1_loss:
    ax.axvspan(s, e, color='#F9A9AE', lw=0, zorder=1)
cloud(ax, c1_p_pos, c1_p_lo, c1_p_hi)
cloud(ax, c1_q_pos, c1_q_lo, c1_q_hi)
cloud(ax, c1_pos, c1_lo, c1_hi)
log_track(ax, c1_out_x, c1_out_y, c1_seg_start, c1_seg_end, c1_seg_val, c1_dot_x, c1_dot_y, lw=5)
ax = axes_px(842.4, 1018, 1390, 1292.6)
ax.set_xlim(0, 250)
ax.set_ylim(-2.31, 2.43)
for s, e in c2_loss:
    ax.axvspan(s, e, ymin=0.01, color=LOSS, lw=0, zorder=1)
for s, e in c2_gain:
    ax.axvspan(s, e, ymin=0.01, color=GAIN, lw=0, zorder=1)
for s, e in c2_gain_dark:
    ax.axvspan(s, e, ymin=0.01, color='#A6B0D8', lw=0, zorder=1)
for pp, ll, hh in [(c2_pos, c2_lo, c2_hi), (c2_p_pos, c2_p_lo, c2_p_hi), (c2_g_pos, c2_g_lo, c2_g_hi),
                   (c2_q_pos, c2_q_lo, c2_q_hi), (c2_r_pos, c2_r_lo, c2_r_hi), (c2_col_pos, c2_col_lo, c2_col_hi)]:
    cloud(ax, pp, ll, hh)
log_track(ax, c2_out_x, c2_out_y, c2_seg_start, c2_seg_end, c2_seg_val, c2_dot_x, c2_dot_y, lw=5)
ax.spines['left'].set_bounds(-2.31, 2.34)
tx(777, 838, 'log$_2$ ratio', 25, rotation=90)
tx(781, 1126, 'log$_2$ ratio', 25, rotation=90)
tx(837, 691, 'T2p1 Chr.11', 22, ha='left')
tx(852, 727, '25 CN changes', 20.5, ha='left')
trex(844, 1003, 'KO Chr.1', 22, ha='left')
tx(851, 1035, '4 CN changes', 20.5, ha='left')
ov.add_patch(Rectangle((1256, 835), 31, 27, color='#F9C0C2', lw=0))
ov.add_patch(Rectangle((1256, 871), 31, 28, color='#9BA8D0', lw=0))
tx(1295, 841, 'CN loss', 20, ha='left')
tx(1295, 878, 'CN gain', 20, ha='left')

# ---- d
d_left = [(210, 1137, 'T2p1 (3 expts)', 'center'), (171, 1173, '+ dox (TRF2-DN)', 'left'), (155, 1211, 'Telomere crisis', 'center'),
          (171, 1247, '- dox', 'left'), (155, 1286, 'Recovery', 'center'), (170, 1321, 'limited dilution', 'left'),
          (155, 1359, '117 post-crisis clones', 'center'), (170, 1396, '1x WGS', 'left'),
          (51, 1439, 'no CN', 'center'), (152, 1439, '<4 CN', 'center'), (262, 1439, '≥4 CN', 'center'),
          (47, 1473, '37%', 'center'), (152, 1473, '42%', 'center'), (262, 1473, '21%', 'center'),
          (140, 1508, '3', 'center'), (261, 1508, '14', 'center'), (196, 1543, '30x WGS', 'center')]
d_right = [(544, 1173, '+ dox (TRF2-DN)', 'left'), (528, 1211, 'Telomere crisis', 'center'),
           (544, 1247, '- dox', 'left'), (528, 1286, 'Recovery', 'center'), (544, 1321, 'limited dilution', 'left'),
           (528, 1359, '416 post-crisis clones', 'center'), (544, 1396, '1x WGS', 'left'),
           (427, 1439, 'no CN', 'center'), (531, 1439, '<4 CN', 'center'), (646, 1439, '≥4 CN', 'center'),
           (428, 1473, '42%', 'center'), (530, 1473, '50%', 'center'), (637, 1473, '8%', 'center'),
           (512, 1508, '21', 'center'), (644, 1508, '14', 'center'), (580, 1543, '30x WGS', 'center')]
d_arrow_rows = [(1158, 1193), (1237, 1272), (1312, 1345), (1380, 1412)]
for items, col, ax_x, line, diag in [(d_left, DARK, 155, (14, 300, 1419), [(150, 175), (242, 217)]),
                                     (d_right, GREEN, 528, (390, 682, 1421), [(534, 559), (625, 598)])]:
    for x, y, s, ha in items:
        tx(x * S, y * S, s, 23, color=col, ha=ha)
    for y0, y1 in d_arrow_rows:
        ov.annotate('', xy=(ax_x * S, y1 * S), xytext=(ax_x * S, y0 * S),
                    arrowprops=dict(arrowstyle='-|>', color=col, lw=1.5, shrinkA=0, shrinkB=0, mutation_scale=14))
    ov.plot([line[0] * S, line[1] * S], [line[2] * S] * 2, color=DARK, lw=1.5)
    for x0, x1 in diag:
        ov.annotate('', xy=(x1 * S, 1522 * S), xytext=(x0 * S, 1497 * S),
                    arrowprops=dict(arrowstyle='->', color=col, lw=1.5, shrinkA=0, shrinkB=0, mutation_scale=14))
trex(585 * S, 1137 * S, 'KO (5 expts)', 23)

# ---- e
e_bw = 53.8
e_up = axes_px(1000, 1404.5, 1470, 1698)
e_lo = axes_px(1000, 1699, 1470, 1817)
e_up.set_xlim(1000, 1470)
e_lo.set_xlim(1000, 1470)
e_up.set_ylim(92.96, 100)
e_lo.set_ylim(0, 87)
bottoms = np.zeros(7)
for vals, col in zip([e_zero, e_one_three, e_four_nine, e_ten_plus], e_colors):
    e_up.bar(e_left_px, vals, width=e_bw, bottom=bottoms, align='edge', color=col, edgecolor='#231F20', lw=1.2)
    bottoms = bottoms + np.array(vals)
e_lo.bar(e_left_px, e_zero, width=e_bw, align='edge', color=e_colors[0], edgecolor='#231F20', lw=1.2)
for a in (e_up, e_lo):
    for sp in ['top', 'right']:
        a.spines[sp].set_visible(False)
    a.set_xticks([])
    a.spines['left'].set_linewidth(1.5)
    a.spines['left'].set_position(('data', 996))
    a.patch.set_visible(False)
e_up.spines['bottom'].set_visible(False)
e_lo.spines['bottom'].set_visible(False)
e_up.set_yticks(e_upper_ticks, e_upper_labels)
e_up.tick_params(axis='y', labelsize=14, length=7, width=1.3, pad=1, colors=DARK)
e_lo.set_yticks(e_lower_ticks)
e_lo.set_yticks(range(10, 80, 20), minor=True)
e_lo.tick_params(axis='y', labelsize=11, length=7, width=1.3, pad=1, colors=DARK)
e_lo.tick_params(axis='y', which='minor', length=5, width=1.2)
ov.plot([990, 1002], [1700, 1692], color=DARK, lw=1.2)
ov.plot([990, 1002], [1705, 1697], color=DARK, lw=1.2)
tx(944, 1618, '% chromosomes w/ indicated CN changes', 19, rotation=90)
for i, lab in enumerate(e_groups):
    tx(e_left_px[i] + e_bw / 2 - 2, 1831, lab, 15.4, color=DARK if i < 2 else GREEN)
ov.plot([1011, 1130], [1845.5] * 2, color=DARK, lw=1.5)
ov.plot([1139, 1456], [1845.5] * 2, color=DARK, lw=2)
tx(1080, 1864, 'T2p1', 22)
trex(1301, 1864, 'KO', 22)
ov.plot([1011, 1130], [1363] * 2, color='#444444', lw=1.3)
ov.plot([1139, 1455], [1363] * 2, color='#444444', lw=1.3)
ov.plot([1070.6, 1070.6, 1294, 1294], [1360.5, 1350, 1350, 1360.5], color='#333333', lw=1.2)
tx(1185, 1333, 'p = 1.916 x 10$^{-8}$', 15)
tx(1071, 1375, 'ns', 15)
tx(1293.5, 1375, 'ns', 15)
ov.plot([1039, 1039, 1103, 1103], [1397, 1387, 1387, 1397], color='#333333', lw=1.2)
ov.plot([1138, 1454], [1387] * 2, color='#444444', lw=1.3)
tx(1468, 1478, '#CN', 16, ha='left')
for y0, y1, col, lab in zip([1497.5, 1533, 1568, 1604], [1524, 1559, 1595, 1630.5], e_colors[::-1], e_legend):
    ov.add_patch(Rectangle((1470, y0), 38, y1 - y0, facecolor=col, edgecolor='#555555', lw=1.2))
    tx(1514, (y0 + y1) / 2 - 1, lab, 15.5, ha='left')

# panel letters
for x, y, s in [(13, 19, 'a'), (13, 665, 'b'), (769, 665, 'c'), (13, 1326, 'd'), (934, 1326, 'e')]:
    tx(x, y, s, 30, color='black')

fig.savefig('out.png', dpi=100)
